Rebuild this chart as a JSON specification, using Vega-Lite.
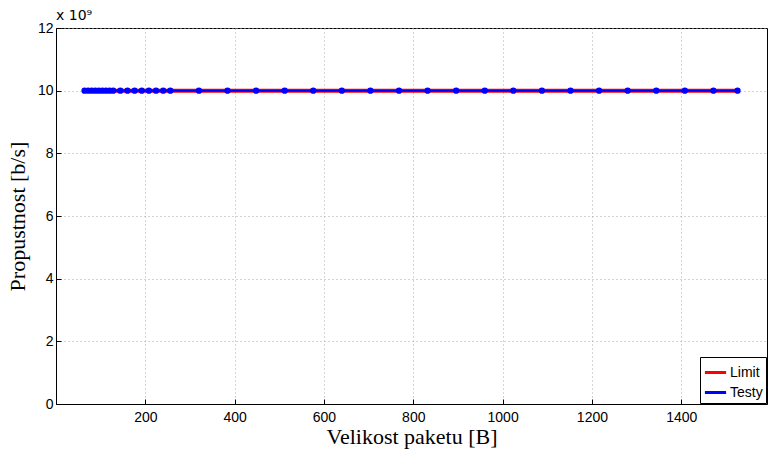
{
  "$schema": "https://vega.github.io/schema/vega-lite/v6.json",
  "width": 711,
  "height": 376,
  "autosize": {"type": "none"},
  "padding": {"left": 56, "top": 28, "right": 1, "bottom": 45},
  "background": "white",
  "title": {"text": "x 10⁹", "anchor": "start", "frame": "group", "font": "DejaVu Sans", "fontSize": 14, "fontWeight": "normal", "color": "black", "offset": -2},
  "config": {
    "view": {"stroke": "black", "strokeWidth": 1},
    "axis": {
      "domainColor": "black",
      "tickColor": "black",
      "tickSize": -5,
      "labelFont": "Liberation Sans",
      "labelFontSize": 14,
      "labelColor": "black",
      "titleFont": "Liberation Serif",
      "titleFontSize": 22,
      "titleFontWeight": "normal",
      "titleColor": "black",
      "gridColor": "#a8a8a8",
      "gridDash": [1, 3],
      "gridWidth": 1
    }
  },
  "datasets": {
    "rows": [
      {"size": 64, "throughput": 10000000000, "series": "Limit"},
      {"size": 1526, "throughput": 10000000000, "series": "Limit"},
      {"size": 64, "throughput": 10000000000, "series": "Testy"},
      {"size": 72, "throughput": 10000000000, "series": "Testy"},
      {"size": 80, "throughput": 10000000000, "series": "Testy"},
      {"size": 88, "throughput": 10000000000, "series": "Testy"},
      {"size": 96, "throughput": 10000000000, "series": "Testy"},
      {"size": 104, "throughput": 10000000000, "series": "Testy"},
      {"size": 112, "throughput": 10000000000, "series": "Testy"},
      {"size": 120, "throughput": 10000000000, "series": "Testy"},
      {"size": 128, "throughput": 10000000000, "series": "Testy"},
      {"size": 144, "throughput": 10000000000, "series": "Testy"},
      {"size": 160, "throughput": 10000000000, "series": "Testy"},
      {"size": 176, "throughput": 10000000000, "series": "Testy"},
      {"size": 192, "throughput": 10000000000, "series": "Testy"},
      {"size": 208, "throughput": 10000000000, "series": "Testy"},
      {"size": 224, "throughput": 10000000000, "series": "Testy"},
      {"size": 240, "throughput": 10000000000, "series": "Testy"},
      {"size": 256, "throughput": 10000000000, "series": "Testy"},
      {"size": 320, "throughput": 10000000000, "series": "Testy"},
      {"size": 384, "throughput": 10000000000, "series": "Testy"},
      {"size": 448, "throughput": 10000000000, "series": "Testy"},
      {"size": 512, "throughput": 10000000000, "series": "Testy"},
      {"size": 576, "throughput": 10000000000, "series": "Testy"},
      {"size": 640, "throughput": 10000000000, "series": "Testy"},
      {"size": 704, "throughput": 10000000000, "series": "Testy"},
      {"size": 768, "throughput": 10000000000, "series": "Testy"},
      {"size": 832, "throughput": 10000000000, "series": "Testy"},
      {"size": 896, "throughput": 10000000000, "series": "Testy"},
      {"size": 960, "throughput": 10000000000, "series": "Testy"},
      {"size": 1024, "throughput": 10000000000, "series": "Testy"},
      {"size": 1088, "throughput": 10000000000, "series": "Testy"},
      {"size": 1152, "throughput": 10000000000, "series": "Testy"},
      {"size": 1216, "throughput": 10000000000, "series": "Testy"},
      {"size": 1280, "throughput": 10000000000, "series": "Testy"},
      {"size": 1344, "throughput": 10000000000, "series": "Testy"},
      {"size": 1408, "throughput": 10000000000, "series": "Testy"},
      {"size": 1472, "throughput": 10000000000, "series": "Testy"},
      {"size": 1526, "throughput": 10000000000, "series": "Testy"}
    ]
  },
  "data": {"name": "rows"},
  "encoding": {
    "x": {
      "field": "size", "type": "quantitative",
      "scale": {"domain": [0, 1592], "nice": false, "zero": false},
      "axis": {"title": "Velikost paketu [B]", "values": [200, 400, 600, 800, 1000, 1200, 1400], "format": "d", "grid": true, "labelPadding": 11, "titlePadding": 2}
    },
    "y": {
      "field": "throughput", "type": "quantitative",
      "scale": {"domain": [0, 12000000000], "nice": false},
      "axis": {"title": "Propustnost [b/s]", "values": [0, 2000000000, 4000000000, 6000000000, 8000000000, 10000000000, 12000000000], "labelExpr": "format(datum.value / 1e9, 'd')", "grid": true, "labelPadding": 8, "titlePadding": 8}
    },
    "color": {
      "field": "series", "type": "nominal",
      "scale": {"domain": ["Limit", "Testy"], "range": ["#ff0000", "#0000ff"]},
      "legend": {
        "title": null, "orient": "bottom-right", "offset": 1,
        "strokeColor": "black", "fillColor": "white", "padding": 3,
        "labelFont": "Liberation Sans", "labelFontSize": 14, "labelColor": "black",
        "symbolType": "stroke", "symbolStrokeWidth": 3, "symbolSize": 450, "rowPadding": 0, "labelOffset": 2
      }
    }
  },
  "layer": [
    {"transform": [{"filter": "datum.series === 'Limit'"}], "mark": {"type": "line", "strokeWidth": 4, "clip": true}},
    {"transform": [{"filter": "datum.series === 'Testy'"}], "mark": {"type": "line", "strokeWidth": 2}},
    {"transform": [{"filter": "datum.series === 'Testy'"}], "mark": {"type": "point", "filled": true, "size": 40, "opacity": 1}}
  ]
}
